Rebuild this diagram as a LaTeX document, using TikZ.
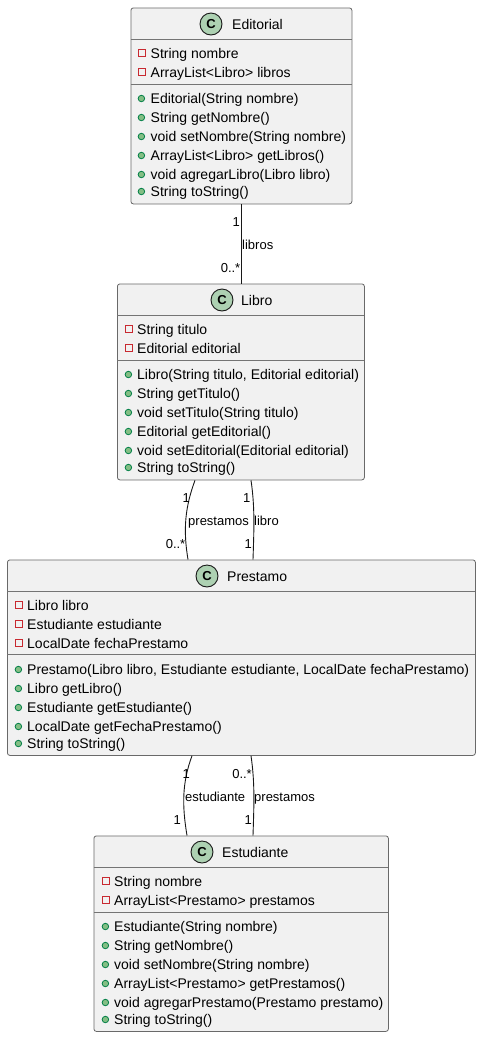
\documentclass[tikz,border=0pt]{standalone}
\usepackage{fontspec}
\setmainfont{Liberation Sans}
\definecolor{boxfill}{HTML}{F1F1F1}
\definecolor{boxline}{HTML}{181818}
\definecolor{spotfill}{HTML}{ADD1B2}
\definecolor{privline}{HTML}{C82930}
\definecolor{pubfill}{HTML}{84BE84}
\definecolor{publine}{HTML}{038048}
\tikzset{
  classbox/.style={draw=boxline!65,line width=0.8pt,fill=boxfill,rounded corners=2.5pt,anchor=north west,inner sep=0pt},
  divider/.style={draw=boxline!60,line width=0.8pt},
  spot/.style={circle,draw=boxline,line width=0.9pt,fill=spotfill,minimum size=22pt,inner sep=0pt,font=\fontsize{13}{13}\selectfont\bfseries},
  titletext/.style={anchor=base west,inner sep=0pt,font=\fontsize{14}{16}\selectfont,text=black},
  membertext/.style={anchor=base west,inner sep=0pt,yshift=-5pt,font=\fontsize{14}{16}\selectfont,text=black},
  edgetext/.style={inner sep=0pt,yshift=-5.2pt,font=\fontsize{13}{15}\selectfont,text=black},
  privicon/.style={rectangle,draw=privline,line width=1pt,fill=boxfill,minimum size=7pt,inner sep=0pt,xshift=0.5pt},
  pubicon/.style={circle,draw=publine,line width=0.8pt,fill=pubfill,minimum size=6.5pt,inner sep=0pt,xshift=0.4pt,yshift=-0.5pt},
  assoc/.style={draw=boxline,line width=0.9pt}
}
\begin{document}
\begin{tikzpicture}[x=1pt,y=1pt]
  \useasboundingbox (0,0) rectangle (481,-1037);

  % Editorial
  \node [classbox,minimum width=221pt,minimum height=196pt] (editorial) at (130.5,-7.5) {};
  \draw [divider] (130.5,-39.5) -- (351.5,-39.5);
  \draw [divider] (130.5,-84) -- (351.5,-84);
  \node [spot] (editorialspot) at (211,-24) {C};
  \node [titletext] (editorialtitle) at (232,-29) {Editorial};
  \foreach \y/\n/\t in {53/a/String nombre,72/b/ArrayList<Libro> libros} {
    \node [privicon] (editorialp\n) at (141,-\y) {};
    \node [membertext] (editorialm\n) at (150.5,-\y) {\t};
  }
  \foreach \y/\n/\t in {98/c/Editorial(String nombre),117/d/String getNombre(),136/e/void setNombre(String nombre),155/f/ArrayList<Libro> getLibros(),174/g/void agregarLibro(Libro libro),191/h/String toString()} {
    \node [pubicon] (editorialp\n) at (141,-\y) {};
    \node [membertext] (editorialm\n) at (150.5,-\y) {\t};
  }

  % Libro
  \node [classbox,minimum width=247pt,minimum height=196pt] (libro) at (117,-283.5) {};
  \draw [divider] (117,-315.5) -- (364,-315.5);
  \draw [divider] (117,-360) -- (364,-360);
  \node [spot] (librospot) at (222,-300) {C};
  \node [titletext] (librotitle) at (241,-305) {Libro};
  \foreach \y/\n/\t in {329/a/String titulo,348/b/Editorial editorial} {
    \node [privicon] (librop\n) at (128,-\y) {};
    \node [membertext] (librom\n) at (137,-\y) {\t};
  }
  \foreach \y/\n/\t in {374/c/{Libro(String titulo, Editorial editorial)},393/d/String getTitulo(),412/e/void setTitulo(String titulo),431/f/Editorial getEditorial(),450/g/void setEditorial(Editorial editorial),467/h/String toString()} {
    \node [pubicon] (librop\n) at (128,-\y) {};
    \node [membertext] (librom\n) at (137,-\y) {\t};
  }

  % Prestamo
  \node [classbox,minimum width=468pt,minimum height=195.5pt] (prestamo) at (7,-559.5) {};
  \draw [divider] (7,-591.5) -- (475,-591.5);
  \draw [divider] (7,-654) -- (475,-654);
  \node [spot] (prestamospot) at (207,-576) {C};
  \node [titletext] (prestamotitle) at (227,-581) {Prestamo};
  \foreach \y/\n/\t in {605/a/Libro libro,624/b/Estudiante estudiante,643/c/LocalDate fechaPrestamo} {
    \node [privicon] (prestamop\n) at (18,-\y) {};
    \node [membertext] (prestamom\n) at (27,-\y) {\t};
  }
  \foreach \y/\n/\t in {669/d/{Prestamo(Libro libro, Estudiante estudiante, LocalDate fechaPrestamo)},688/e/Libro getLibro(),707/f/Estudiante getEstudiante(),726/g/LocalDate getFechaPrestamo(),743/h/String toString()} {
    \node [pubicon] (prestamop\n) at (18,-\y) {};
    \node [membertext] (prestamom\n) at (27,-\y) {\t};
  }

  % Estudiante
  \node [classbox,minimum width=294.5pt,minimum height=195.5pt] (estudiante) at (93.5,-835.5) {};
  \draw [divider] (93.5,-867.5) -- (388,-867.5);
  \draw [divider] (93.5,-912) -- (388,-912);
  \node [spot] (estudiantespot) at (202,-852) {C};
  \node [titletext] (estudiantetitle) at (222,-857) {Estudiante};
  \foreach \y/\n/\t in {881/a/String nombre,900/b/ArrayList<Prestamo> prestamos} {
    \node [privicon] (estudiantep\n) at (105,-\y) {};
    \node [membertext] (estudiantem\n) at (114,-\y) {\t};
  }
  \foreach \y/\n/\t in {926/c/Estudiante(String nombre),945/d/String getNombre(),964/e/void setNombre(String nombre),983/f/ArrayList<Prestamo> getPrestamos(),1002/g/void agregarPrestamo(Prestamo prestamo),1019/h/String toString()} {
    \node [pubicon] (estudiantep\n) at (105,-\y) {};
    \node [membertext] (estudiantem\n) at (114,-\y) {\t};
  }

  % connectors
  \draw [assoc] ([xshift=110.5pt]editorial.south west) -- ([xshift=124pt]libro.north west);
  \draw [assoc] ([xshift=78pt]libro.south west) .. controls +(-10,-27) and +(-5,30) .. ([xshift=181pt]prestamo.north west);
  \draw [assoc] ([xshift=134pt]libro.south west) .. controls +(4,-27) and +(1,30) .. ([xshift=246pt]prestamo.north west);
  \draw [assoc] ([xshift=185pt]prestamo.south west) .. controls +(-10,-27) and +(-5,30) .. ([xshift=93.5pt]estudiante.north west);
  \draw [assoc] ([xshift=244pt]prestamo.south west) .. controls +(4,-27) and +(1,30) .. ([xshift=159.5pt]estudiante.north west);

  % connector labels
  \node [edgetext,anchor=base east] (lbeda) at (240,-221) {1};
  \node [edgetext,anchor=base west] (lbedb) at (242,-244) {libros};
  \node [edgetext,anchor=base east] (lbedc) at (240.5,-267) {0..*};
  \node [edgetext,anchor=base east] (lblia) at (190,-497) {1};
  \node [edgetext,anchor=base west] (lblib) at (188,-520) {prestamos};
  \node [edgetext,anchor=base east] (lblic) at (185.5,-543) {0..*};
  \node [edgetext,anchor=base east] (lblid) at (250.5,-497) {1};
  \node [edgetext,anchor=base west] (lblie) at (254,-520) {libro};
  \node [edgetext,anchor=base east] (lblif) at (252,-543) {1};
  \node [edgetext,anchor=base east] (lbpra) at (190,-773) {1};
  \node [edgetext,anchor=base west] (lbprb) at (185,-796) {estudiante};
  \node [edgetext,anchor=base east] (lbprc) at (181,-819) {1};
  \node [edgetext,anchor=base east] (lbprd) at (252,-773) {0..*};
  \node [edgetext,anchor=base west] (lbpre) at (254,-796) {prestamos};
  \node [edgetext,anchor=base east] (lbprf) at (252,-819) {1};
\end{tikzpicture}
\end{document}
